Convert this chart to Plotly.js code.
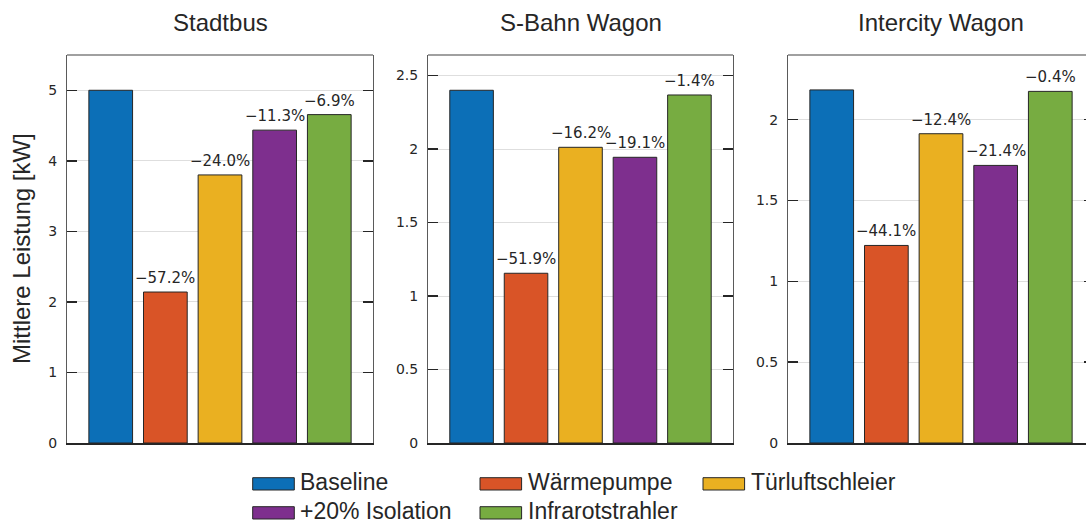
<!DOCTYPE html>
<html>
<head>
<meta charset="utf-8">
<script src="https://cdn.plot.ly/plotly-3.0.1.min.js"></script>
<style>
html,body{margin:0;padding:0;overflow:hidden;background:#fff;}
#chart{width:1100px;height:524px;}
</style>
</head>
<body>
<div id="chart"></div>
<script>
// ---- data ----
const panelTitles = ['Stadtbus', 'S-Bahn Wagon', 'Intercity Wagon'];
const seriesNames = ['Baseline', 'Wärmepumpe', 'Türluftschleier', '+20% Isolation', 'Infrarotstrahler'];
const seriesColors = ['#0C6FB7', '#D95427', '#EAB021', '#7E2F8E', '#77AC41'];
const stadtbusValues = [5.00, 2.14, 3.80, 4.435, 4.655];
const sbahnValues = [2.40, 1.155, 2.012, 1.944, 2.368];
const intercityValues = [2.184, 1.222, 1.913, 1.717, 2.175];
const stadtbusLabels = ['', '−57.2%', '−24.0%', '−11.3%', '−6.9%'];
const sbahnLabels = ['', '−51.9%', '−16.2%', '−19.1%', '−1.4%'];
const intercityLabels = ['', '−44.1%', '−12.4%', '−21.4%', '−0.4%'];
const yTicks1 = [0, 1, 2, 3, 4, 5];
const yTicks2 = [0, 0.5, 1, 1.5, 2, 2.5];
const yTicks3 = [0, 0.5, 1, 1.5, 2];
const yTitle = 'Mittlere Leistung [kW]';

// ---- layout helpers (pixel geometry) ----
const W = 1100, H = 524, TOP = 55, BOT = 443;
const PH = BOT - TOP;
const px = x => x / W;
const py = y => (BOT - y) / PH;

const panelValues = [stadtbusValues, sbahnValues, intercityValues];
const panelLabels = [stadtbusLabels, sbahnLabels, intercityLabels];
const panelTicks = [yTicks1, yTicks2, yTicks3];
const panelRanges = [[0, 5.5], [0, 2.64], [0, 2.40]];
const panelDomains = [[67, 373], [428, 733], [788, 1094]];
const xcat = seriesNames.map((_, i) => i + 1);

const textColor = '#262626';
const tickFont = {family: 'DejaVu Sans', size: 14, color: textColor};
const labelFont = {family: 'DejaVu Sans', size: 15, color: textColor};
const sansFont = {family: 'Liberation Sans, Arial, sans-serif', size: 24, color: textColor};

const traces = [];
const annotations = [];
const shapes = [];
const layout = {
  width: W, height: H,
  margin: {l: 0, r: 0, t: TOP, b: H - BOT, pad: 0},
  paper_bgcolor: '#ffffff', plot_bgcolor: '#ffffff',
  showlegend: false,
  barmode: 'overlay',
  font: {family: 'DejaVu Sans', color: textColor}
};

panelValues.forEach((vals, p) => {
  const xa = p === 0 ? 'x' : 'x' + (p + 1);
  const ya = p === 0 ? 'y' : 'y' + (p + 1);
  const xk = p === 0 ? 'xaxis' : 'xaxis' + (p + 1);
  const yk = p === 0 ? 'yaxis' : 'yaxis' + (p + 1);
  traces.push({
    type: 'bar', x: xcat, y: vals, xaxis: xa, yaxis: ya,
    width: 0.8,
    marker: {color: seriesColors, line: {color: '#262626', width: 1}},
    hoverinfo: 'skip'
  });
  layout[xk] = {
    domain: [px(panelDomains[p][0]), px(panelDomains[p][1])],
    range: [0.2, 5.8], anchor: ya,
    showticklabels: false, ticks: '', showgrid: false, zeroline: false,
    showline: true, linecolor: '#262626', linewidth: 1.5, mirror: false, fixedrange: true
  };
  layout[yk] = {
    domain: [0, 1], range: panelRanges[p], anchor: xa,
    tickvals: panelTicks[p], ticktext: panelTicks[p].map(String),
    ticks: 'inside', ticklen: 10, tickwidth: 1.4, tickcolor: '#262626',
    mirror: 'ticks', showline: true, linecolor: '#5a5a5a', linewidth: 1,
    showgrid: true, gridcolor: '#dedede', gridwidth: 1, zeroline: false,
    tickfont: tickFont, ticklabelstandoff: 6, fixedrange: true
  };
  // top frame line
  shapes.push({type: 'line', xref: xa + ' domain', yref: ya + ' domain', x0: 0, x1: 1, y0: 1, y1: 1,
    line: {color: '#808080', width: 1.5}});
  // panel title
  annotations.push({xref: 'paper', yref: 'paper', x: px((panelDomains[p][0] + panelDomains[p][1]) / 2),
    y: py(22), xanchor: 'center', yanchor: 'middle', showarrow: false,
    text: panelTitles[p], font: sansFont});
  // value labels
  panelLabels[p].forEach((lab, i) => {
    if (!lab) return;
    annotations.push({xref: xa, yref: ya, x: xcat[i], y: vals[i], xanchor: 'center', yanchor: 'bottom',
      yshift: 3, showarrow: false, text: lab, font: labelFont});
  });
});

// y-axis title
annotations.push({xref: 'paper', yref: 'paper', x: px(21), y: 0.5, xanchor: 'center', yanchor: 'middle',
  textangle: -90, showarrow: false, text: yTitle, font: sansFont});

// custom legend (2 rows)
const legendPos = [[252.7, 477.7], [480, 477.7], [703, 477.7], [252.7, 506.7], [480, 506.7]];
seriesNames.forEach((name, i) => {
  const [lx, ly] = legendPos[i];
  shapes.push({type: 'rect', xref: 'paper', yref: 'paper', x0: px(lx), x1: px(lx + 41.6),
    y0: py(ly + 12.3), y1: py(ly), fillcolor: seriesColors[i], line: {color: '#262626', width: 1}});
  annotations.push({xref: 'paper', yref: 'paper', x: px(lx + 45.5), y: py(ly + 4.5), xanchor: 'left',
    yanchor: 'middle', showarrow: false, text: name, font: {...sansFont, size: 23}});
});

layout.annotations = annotations;
layout.shapes = shapes;

Plotly.newPlot('chart', traces, layout, {displayModeBar: false, staticPlot: true});
</script>
</body>
</html>
